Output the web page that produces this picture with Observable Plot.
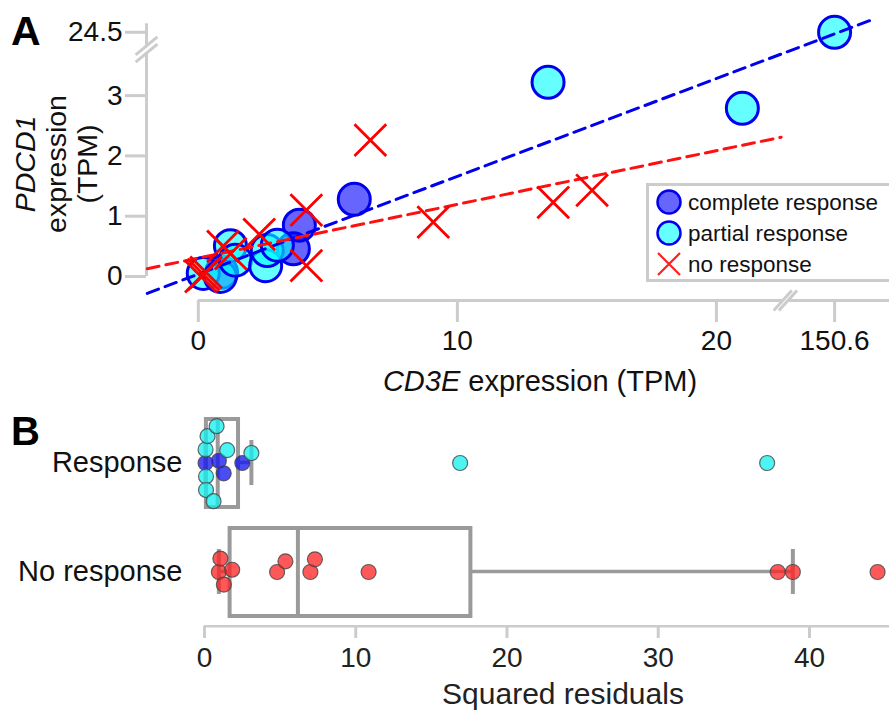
<!DOCTYPE html>
<html><head><meta charset="utf-8">
<script src="https://cdn.jsdelivr.net/npm/d3@7"></script>
<script src="https://cdn.jsdelivr.net/npm/@observablehq/plot@0.6"></script>
<style>
body{margin:0;background:#fff;font-family:"Liberation Sans",Arial,Helvetica,sans-serif;}
#fig{position:relative;width:889px;height:712px;overflow:hidden;background:#fff;}
#fig > svg, #fig > div{position:absolute;left:0;}
</style></head><body><div id="fig"></div>
<script>
// ---------- Panel A data (TPM) ----------
const completeCD3E  = [0.9, 3.67, 3.9, 6.02];
const completePDCD1 = [0.07, 0.46, 0.85, 1.28];
const partialCD3E   = [0.19, 0.85, 1.24, 1.43, 2.6, 2.66, 3.05, 13.5, 21.0, 150.6];
const partialPDCD1  = [0.05, 0.0, 0.51, 0.27, 0.18, 0.43, 0.52, 3.22, 2.79, 24.5];
const noRespCD3E    = [0.1, 0.2, 0.3, 0.95, 1.25, 2.35, 4.17, 4.17, 6.64, 9.07, 13.7, 15.2];
const noRespPDCD1   = [0.0, 0.03, 0.07, 0.5, 0.38, 0.7, 1.1, 0.18, 2.26, 0.9, 1.23, 1.43];
// fitted lines (end points)
const fitNames = ["response", "no response"];
const fitCD3E  = [[-1.97, 152.06], [-1.97, 22.5]];
const fitPDCD1 = [[-0.28, 24.71], [0.13, 2.31]];
const fitColors = ["#0000ee", "#ff1010"];
// axis ticks
const xTickValues = [0, 10, 20, 150.6];
const yTickValues = [0, 1, 2, 3, 24.5];
// broken axes
const xBreakAt = 22.66, xJump = 126.04;
const yBreakAt = 3.764, yJump = 20.45;

// ---------- Panel B data (squared residuals) ----------
const groups = ["Response", "No response"];
const respCompleteResid = [0.07, 0.95, 1.27, 2.5];
const respPartialResid  = [0.6, 0.1, 0.07, 0.1, 0.2, 0.8, 1.5, 3.1, 16.9, 37.2];
const noRespResid       = [0.95, 1.05, 1.28, 1.83, 4.8, 5.35, 7.0, 7.3, 10.85, 37.9, 38.9, 44.5];
const residTicks = [0, 10, 20, 30, 40];

const FONT = '"Liberation Sans", Arial, Helvetica, sans-serif';
const AXIS_GRAY = "#cccccc";
const fig = document.getElementById("fig");

// ---------- Panel A ----------
const xb = v => v > xBreakAt ? v - xJump : v;
const yb = v => v > yBreakAt ? v - yJump : v;
const xLab = new Map(xTickValues.map(v => [xb(v), String(v)]));
const yLab = new Map(yTickValues.map(v => [yb(v), String(v)]));
const pts = (xs, ys) => xs.map((x, i) => ({x: xb(x), y: yb(ys[i])}));
const complete = pts(completeCD3E, completePDCD1);
const partial = pts(partialCD3E, partialPDCD1);
const noResp = pts(noRespCD3E, noRespPDCD1);
const fits = fitNames.flatMap((n, k) => fitCD3E[k].map((x, j) => ({name: n, color: fitColors[k], x: xb(x), y: yb(fitPDCD1[k][j])})));

const xMin = -2.0, xMax = 26.68, yMin = -0.398, yMax = 4.577;
const yAxisTop = 4.19;
const yAxisSegs = [{y1: 0, y2: yBreakAt - 0.06}, {y1: yBreakAt + 0.06, y2: yAxisTop}];
const xAxisSegs = [{x1: 0, x2: xBreakAt - 0.1}, {x1: xBreakAt + 0.1, x2: xMax}];
const ySlashes = [-0.06, 0.06].map(o => ({x1: xMin - 0.42, y1: yBreakAt + o - 0.15, x2: xMin + 0.42, y2: yBreakAt + o + 0.15}));
const xSlashes = [-0.1, 0.1].map(o => ({x1: xBreakAt + o - 0.35, y1: yMin - 0.166, x2: xBreakAt + o + 0.35, y2: yMin + 0.166}));

const plotA = Plot.plot({
  width: 889, height: 400,
  marginLeft: 146, marginRight: 0, marginTop: 0, marginBottom: 100,
  x: {domain: [xMin, xMax]},
  y: {domain: [yMin, yMax]},
  style: {fontFamily: FONT, background: "transparent", overflow: "visible"},
  marks: [
    Plot.ruleX(yAxisSegs, {x: () => xMin, y1: "y1", y2: "y2", stroke: AXIS_GRAY, strokeWidth: 3}),
    Plot.ruleY(xAxisSegs, {y: () => yMin, x1: "x1", x2: "x2", stroke: AXIS_GRAY, strokeWidth: 3}),
    Plot.link(ySlashes, {x1: "x1", y1: "y1", x2: "x2", y2: "y2", stroke: AXIS_GRAY, strokeWidth: 3}),
    Plot.link(xSlashes, {x1: "x1", y1: "y1", x2: "x2", y2: "y2", stroke: AXIS_GRAY, strokeWidth: 3}),
    Plot.axisX(xTickValues.map(xb), {anchor: "bottom", tickFormat: d => xLab.get(d), tickSize: 22, tickPadding: 8,
      fontSize: 28, stroke: AXIS_GRAY, strokeWidth: 3, fill: "#111", label: null}),
    Plot.axisY(yTickValues.map(yb), {anchor: "left", tickFormat: d => yLab.get(d), tickSize: 21, tickPadding: 3,
      fontSize: 28, stroke: AXIS_GRAY, strokeWidth: 3, fill: "#111", label: null}),
    Plot.dot(complete, {x: "x", y: "y", r: 16, fill: "#0000ff", fillOpacity: 0.6, stroke: "#0000ee", strokeWidth: 3}),
    Plot.dot(partial, {x: "x", y: "y", r: 16, fill: "#00ffff", fillOpacity: 0.6, stroke: "#0000ee", strokeWidth: 3}),
    Plot.line(fits, {x: "x", y: "y", z: "name", stroke: "color", strokeWidth: 3, strokeDasharray: "12,7"}),
    Plot.dot(noResp, {x: "x", y: "y", r: 14.5, symbol: "times", stroke: "#ff0000", strokeWidth: 2.8})
  ]
});
plotA.style.top = "0px";
fig.appendChild(plotA);

// ---------- Panel B ----------
const resid = [
  ...respCompleteResid.map(v => ({g: "Response", v, c: "#1010f0"})),
  ...respPartialResid.map(v => ({g: "Response", v, c: "#10f0f0"})),
  ...noRespResid.map(v => ({g: "No response", v, c: "#ff2020"}))
].sort((a, b) => a.v - b.v);

const boxStats = groups.map(g => {
  const vals = resid.filter(d => d.g === g).map(d => d.v).sort(d3.ascending);
  const q1 = d3.quantile(vals, 0.25), med = d3.quantile(vals, 0.5), q3 = d3.quantile(vals, 0.75);
  const iqr = q3 - q1;
  const lo = d3.min(vals.filter(v => v >= q1 - 1.5 * iqr));
  const hi = d3.max(vals.filter(v => v <= q3 + 1.5 * iqr));
  return {g, q1, med, q3, lo, hi};
});
const BOX = "#9a9a9a";
const xMaxB = 45.29;
const plotB = Plot.plot({
  width: 889, height: 312,
  marginLeft: 204, marginRight: 0, marginTop: 7, marginBottom: 86,
  x: {domain: [0, xMaxB]},
  fy: {domain: groups, padding: 0},
  style: {fontFamily: FONT, background: "transparent", overflow: "visible"},
  marks: [
    Plot.rect([{g: "No response"}], {x1: () => 0, x2: () => xMaxB, fy: "g", insetTop: 108, insetBottom: -1.5, fill: AXIS_GRAY}),
    Plot.axisX(residTicks, {anchor: "bottom", tickSize: 12, tickPadding: 9, fontSize: 28, stroke: AXIS_GRAY, strokeWidth: 3, fill: "#222", label: null}),
    Plot.axisFy({anchor: "left", tickSize: 0, tickPadding: 22, fontSize: 29, fill: "#111", label: null}),
    Plot.rect(boxStats, {x1: "q3", x2: "hi", fy: "g", insetTop: 52.75, insetBottom: 52.75, fill: BOX}),
    Plot.rect(boxStats, {x1: "lo", x2: "q1", fy: "g", insetTop: 52.75, insetBottom: 52.75, fill: BOX}),
    Plot.ruleX(boxStats, {x: "hi", fy: "g", insetTop: 32, insetBottom: 32, stroke: BOX, strokeWidth: 4}),
    Plot.ruleX(boxStats, {x: "lo", fy: "g", insetTop: 32, insetBottom: 32, stroke: BOX, strokeWidth: 4}),
    Plot.rect(boxStats, {x1: "q1", x2: "q3", fy: "g", insetTop: 11, insetBottom: 10, fill: "none", stroke: BOX, strokeWidth: 4}),
    Plot.ruleX(boxStats, {x: "med", fy: "g", insetTop: 11, insetBottom: 10, stroke: BOX, strokeWidth: 4}),
    Plot.dot(resid, Plot.dodgeY({anchor: "middle", padding: -1.5}, {x: "v", fy: "g", r: 7.5, fill: "c", fillOpacity: 0.75, stroke: "#444", strokeOpacity: 0.8, strokeWidth: 1.2}))
  ]
});
plotB.style.top = "400px";
fig.appendChild(plotB);

// ---------- Overlay: panel letters, axis titles, legend ----------
const ov = d3.create("svg").attr("width", 889).attr("height", 712).style("top", "0px")
  .attr("font-family", FONT);
ov.append("text").attr("x", 11).attr("y", 45).attr("font-size", 41).attr("font-weight", "bold").attr("fill", "#000").text("A");
ov.append("text").attr("x", 11).attr("y", 445).attr("font-size", 40).attr("font-weight", "bold").attr("fill", "#000").text("B");
const yt = ov.append("g").attr("transform", "translate(56,164) rotate(-90)").attr("font-size", 28.5).attr("text-anchor", "middle").attr("fill", "#111");
yt.append("text").attr("y", -31).attr("dy", "0.35em").attr("font-style", "italic").text("PDCD1");
yt.append("text").attr("y", 0).attr("dy", "0.35em").text("expression");
yt.append("text").attr("y", 31).attr("dy", "0.35em").text("(TPM)");
const xt = ov.append("text").attr("x", 540).attr("y", 391).attr("font-size", 29).attr("text-anchor", "middle").attr("fill", "#111");
xt.append("tspan").attr("font-style", "italic").text("CD3E");
xt.append("tspan").text(" expression (TPM)");
ov.append("text").attr("x", 563).attr("y", 704).attr("font-size", 30).attr("text-anchor", "middle").attr("fill", "#222").text("Squared residuals");

// legend
const legendLabels = ["complete response", "partial response", "no response"];
const lg = ov.append("g");
lg.append("rect").attr("x", 647.5).attr("y", 184.5).attr("width", 300).attr("height", 96)
  .attr("fill", "#fff").attr("stroke", AXIS_GRAY).attr("stroke-width", 3);
legendLabels.forEach((lab, i) => {
  const cy = 202 + i * 31;
  if (i < 2) {
    lg.append("circle").attr("cx", 669).attr("cy", cy).attr("r", 11.5)
      .attr("fill", i === 0 ? "#0000ff" : "#00ffff").attr("fill-opacity", 0.6)
      .attr("stroke", "#0000ee").attr("stroke-width", 2.5);
  } else {
    lg.append("path").attr("d", `M${658},${cy - 11}L${680},${cy + 11}M${658},${cy + 11}L${680},${cy - 11}`)
      .attr("stroke", "#ff2020").attr("stroke-width", 2.2);
  }
  lg.append("text").attr("x", 688).attr("y", cy + 8).attr("font-size", 22.5).attr("fill", "#111").text(lab);
});
fig.appendChild(ov.node());
</script></body></html>
